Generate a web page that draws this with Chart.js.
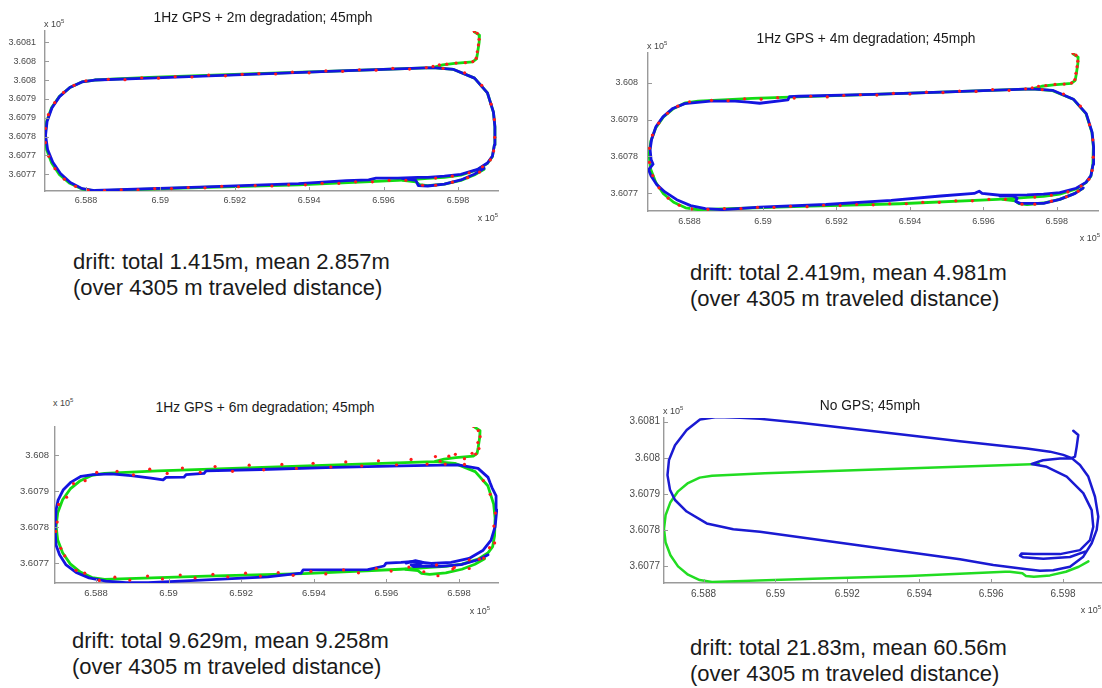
<!DOCTYPE html>
<html><head><meta charset="utf-8">
<script src="https://cdn.jsdelivr.net/npm/chart.js@4.4.0/dist/chart.umd.min.js"></script>
<style>
html,body{margin:0;padding:0;background:#fff;}
body{width:1102px;height:688px;position:relative;overflow:hidden;font-family:"Liberation Sans",Arial,sans-serif;}
canvas{position:absolute;}
.t{position:absolute;white-space:nowrap;color:#222;}
.title{font-size:13.8px;transform:translate(-50%,-50%);color:#1a1a1a;}
.exp{font-size:9px;color:#444;transform:translate(0,-50%);}
.expr{font-size:9px;color:#444;transform:translate(-100%,-50%);}
.exp sup,.expr sup{font-size:6px;vertical-align:4px;}
.cap{font-size:22px;line-height:26px;color:#1a1a1a;}
</style></head><body>
<script>
// ---- data (UTM metres; axis labels shown in units of 1e5 m) ----
const xTickValues = [658800, 659000, 659200, 659400, 659600, 659800];
const xTickLabels = ['6.588', '6.59', '6.592', '6.594', '6.596', '6.598'];
const yTicksP1 = [360770, 360775, 360780, 360785, 360790, 360795, 360800, 360805];
const yLabelsP1 = ['3.6077', '3.6077', '3.6078', '3.6079', '3.6079', '3.608', '3.608', '3.6081'];
const yTicksP23 = [360770, 360780, 360790, 360800];
const yLabelsP23 = ['3.6077', '3.6078', '3.6079', '3.608'];
const yTicksP4 = [360770, 360780, 360790, 360800, 360810];
const yLabelsP4 = ['3.6077', '3.6078', '3.6079', '3.608', '3.6081'];

const titles = ['1Hz GPS + 2m degradation; 45mph', '1Hz GPS + 4m degradation; 45mph', '1Hz GPS + 6m degradation; 45mph', 'No GPS; 45mph'];
const captions = [
  ['drift: total 1.415m, mean 2.857m', '(over 4305 m traveled distance)'],
  ['drift: total 2.419m, mean 4.981m', '(over 4305 m traveled distance)'],
  ['drift: total 9.629m, mean 9.258m', '(over 4305 m traveled distance)'],
  ['drift: total 21.83m, mean 60.56m', '(over 4305 m traveled distance)']
];

// ground truth (green)
const truthMain = [
  [659843.8,360807.8],[659857.9,360806.9],[659857.1,360805.1],[659852.6,360802.1],[659849.9,360800.6],[659839.2,360799.8],[659791.1,360799.4],[659759.0,360799.0],[659732.3,360798.3],
  [659505.1,360797.5],[659237.9,360796.6],[658970.6,360795.7],[658823.6,360795.0],
  [658789.2,360794.5],[658756.8,360793.0],[658729.0,360790.7],[658707.9,360787.7],[658694.5,360784.1],[658690.0,360780.3],[658694.5,360776.5],[658707.9,360773.0],[658729.0,360769.9],[658756.8,360767.6],[658789.2,360766.1],[658823.6,360765.6],
  [659104.3,360766.5],[659371.5,360767.2],[659638.8,360768.4],[659692.2,360768.7],
  [659718.9,360768.9],[659763.6,360769.2],[659807.9,360769.8],[659852.6,360771.2],[659879.3,360772.9],[659892.7,360774.7],[659898.0,360777.8],[659899.4,360782.6],[659895.4,360786.5],[659879.3,360791.6],[659844.6,360795.5],[659788.5,360797.8],[659732.3,360798.3]
];
const truthEnd = [[659652.1,360768.4],[659686.9,360768.0],[659696.8,360767.25],[659718.9,360767.0],[659763.6,360767.4],[659807.9,360768.4],[659843.8,360769.8],[659870.5,360771.3]];

// degraded GPS fixes (red), 2m / 4m runs
const gpsPoints = [
  [659844,360807.9],[659852,360807.4],[659857,360805.8],[659855,360804.3],[659852,360802.5],[659849,360800.8],[659840,360799.9],[659820,360799.6],[659795,360799.5],[659770,360799.2],[659750,360799.0],[659733,360798.6],
  [659715,360798.3],[659670,360797.9],[659625,360798.1],[659580,360797.6],[659535,360797.7],[659490,360797.3],[659445,360797.4],[659400,360796.9],[659355,360797.1],[659310,360796.6],[659265,360796.7],[659220,360796.5],[659175,360796.1],[659130,360796.3],[659085,360795.8],[659040,360795.9],[658995,360795.5],[658950,360795.6],[658905,360795.1],[658860,360795.2],
  [658800,360794.8],[658768,360793.6],[658740,360791.7],[658716,360789.0],[658699,360785.8],[658691,360782.2],[658691,360778.4],[658700,360774.8],[658717,360771.5],[658742,360768.7],[658772,360766.8],[658806,360765.8],
  [658850,360765.7],[658895,360765.9],[658940,360765.9],[658985,360766.2],[659030,360766.2],[659075,360766.5],[659120,360766.4],[659165,360766.8],[659210,360766.7],[659255,360767.0],[659300,360766.9],[659345,360767.2],[659390,360767.2],[659435,360767.6],[659480,360767.6],[659525,360768.0],[659570,360768.0],[659615,360768.4],[659660,360768.4],
  [659740,360769.0],[659785,360769.5],[659830,360770.4],[659866,360772.0],[659887,360773.8],[659896,360776.2],[659899,360779.8],[659898,360784.5],[659889,360788.6],[659864,360793.6],[659818,360796.9],[659760,360798.1],
  [659705,360767.1],[659740,360767.1],[659785,360767.9],[659826,360769.1],[659858,360770.6]
];
// degraded GPS fixes (red), 6m run
const gpsPoints6 = [
  [659840,360808.1],[659853,360806.9],[659858,360805.2],[659852,360803.6],[659855,360801.9],[659846,360800.4],[659836,360800.6],[659815,360799.1],[659790,360800.3],[659772,360799.8],[659748,360798.4],[659735,360799.7],
  [659712,360797.6],[659668,360798.9],[659628,360797.4],[659578,360798.5],[659532,360797.1],[659488,360798.2],[659447,360796.8],[659398,360797.8],[659352,360796.4],[659312,360797.5],[659262,360796.0],[659222,360797.3],[659176,360795.6],[659128,360796.9],[659087,360795.3],[659038,360796.5],[658996,360795.0],[658948,360796.2],[658903,360794.6],[658858,360795.6],
  [658802,360795.3],[658770,360793.0],[658738,360792.2],[658719,360788.4],[658697,360786.4],[658693,360781.5],[658689,360778.9],[658703,360774.2],[658714,360772.1],[658745,360768.1],[658769,360767.3],[658809,360765.3],
  [658852,360766.2],[658893,360765.4],[658942,360766.5],[658983,360765.7],[659032,360766.8],[659073,360766.0],[659122,360767.0],[659163,360766.3],[659212,360767.3],[659253,360766.5],[659302,360767.5],[659343,360766.7],[659392,360767.8],[659433,360767.1],[659482,360768.2],[659523,360767.4],[659572,360768.6],[659613,360767.9],[659662,360769.0],
  [659738,360769.6],[659787,360768.9],[659828,360771.0],[659868,360771.5],[659884,360774.4],[659898,360775.7],[659896,360780.4],[659900,360784.0],[659886,360789.2],[659867,360793.0],[659815,360797.5],[659762,360797.6],
  [659703,360767.7],[659742,360766.6],[659783,360768.5],[659828,360768.6],[659856,360771.2]
];

// estimated trajectories (blue)
const blue1Main = [
  [659732.3,360798.3],[659505.1,360797.5],[659237.9,360796.5],[658970.6,360795.5],[658823.6,360795.0],
  [658789.2,360794.5],[658756.8,360793.0],[658729.0,360790.6],[658708.5,360787.6],[658695.5,360784.0],[658691.5,360780.3],[658697.0,360776.6],[658711.0,360773.2],[658731.5,360770.2],[658758.0,360767.8],[658790.0,360766.2],[658823.6,360765.7],
  [659104.3,360766.6],[659371.5,360767.5],[659500.0,360768.3],[659560.0,360768.5],[659580.0,360769.0],[659638.8,360769.0],[659692.2,360769.2],
  [659718.9,360769.2],[659763.6,360769.5],[659807.9,360770.0],[659852.6,360771.3],[659879.3,360773.0],[659892.7,360774.8],[659898.0,360777.8],[659899.4,360782.6],[659895.4,360786.5],[659879.3,360791.6],[659844.6,360795.5],[659788.5,360797.8],[659732.3,360798.3]
];
const blue1End = [[659650.0,360768.9],[659686.9,360768.4],[659693.5,360767.0],[659718.9,360766.9],[659763.6,360767.4],[659807.9,360768.5],[659843.8,360770.0],[659870.5,360771.6]];

const blue2Main = [
  [659732.3,360798.3],[659505.0,360797.5],[659300.0,360796.8],[659098.9,360796.3],[659072.0,360796.2],[659068.0,360795.3],[658991.0,360794.4],[658959.0,360794.7],[658924.0,360795.0],[658857.0,360795.0],
  [658786.8,360794.3],[658754.6,360793.0],[658727.7,360790.7],[658708.8,360788.1],[658696.7,360784.6],[658692.7,360781.9],[658695.4,360779.2],[658700.8,360777.9],[658688.7,360776.4],[658695.4,360774.7],[658711.5,360772.3],[658733.0,360770.4],[658765.3,360768.3],[658803.0,360766.7],[658843.3,360765.9],[658889.1,360765.6],
  [658991.3,360766.3],[659171.5,360767.0],[659349.0,360768.1],[659483.6,360769.3],[659575.0,360770.0],[659588.5,360770.6],[659596.5,360770.0],[659645.0,360769.5],
  [659718.9,360769.6],[659763.6,360769.8],[659807.9,360770.2],[659852.6,360771.4],[659879.3,360773.0],[659892.7,360774.8],[659898.5,360777.8],[659900.0,360782.6],[659896.0,360786.5],[659880.0,360791.6],[659845.0,360795.5],[659788.5,360797.9],[659732.3,360798.3]
];
const blue2End = [[659645.0,360769.3],[659680.0,360769.4],[659692.0,360768.7],[659688.0,360767.8],[659700.0,360767.3],[659763.6,360767.3],[659807.9,360768.4],[659850.0,360770.0],[659872.0,360771.5]];

const blue3Main = [
  [659750.6,360797.3],[659640.4,360797.1],[659455.8,360796.7],[659254.7,360796.1],[659103.2,360795.7],[659097.7,360795.0],[659048.1,360794.7],[659042.6,360794.0],[658993.0,360793.9],[658984.8,360793.2],[658951.7,360793.7],[658896.6,360794.4],[658841.5,360794.9],[658791.9,360794.7],
  [658758.9,360794.2],[658731.3,360792.6],[658709.3,360790.4],[658695.5,360787.6],[658690.0,360784.9],[658688.6,360782.1],[658687.2,360779.3],[658690.0,360775.1],[658699.6,360772.4],[658717.5,360769.6],[658745.1,360767.5],[658780.9,360766.0],[658827.7,360765.1],[658882.8,360764.7],[658943.4,360764.7],
  [659089.4,360765.4],[659273.2,360766.3],[659364.9,360767.3],[659370.4,360768.2],[659548.7,360768.3],[659593.6,360769.3],[659599.1,360770.1],[659640.4,360770.3],[659676.2,360770.6],
  [659723.1,360770.0],[659778.1,360770.3],[659827.7,360771.4],[659865.5,360773.6],[659888.3,360776.5],[659899.4,360780.2],[659904.0,360784.9],[659902.1,360788.8],[659891.1,360791.0],[659885.6,360792.4],[659880.1,360793.9],[659852.5,360796.4],[659797.4,360797.4],[659750.6,360797.3]
];
const blue3End = [[659654.2,360770.1],[659680.0,360770.8],[659700.0,360770.3],[659690.0,360769.8],[659668.0,360769.6],[659676.0,360769.1],[659709.3,360769.3],[659750.6,360769.2],[659805.7,360769.7],[659855.3,360771.1],[659880.1,360772.4]];

const blue4 = [
  [659828.5,360807.5],[659842.4,360806.3],[659838.0,360803.1],[659833.2,360800.3],[659824.1,360799.9],
  [659800.7,360800.8],[659763.7,360801.7],[659698.9,360802.6],[659513.4,360804.6],[659346.5,360806.5],[659207.4,360808.1],[659068.3,360809.7],[658957.0,360810.8],[658901.4,360811.1],[658836.6,360811.3],[658790.1,360810.6],
  [658753.1,360807.7],[658720.6,360803.5],[658703.9,360799.4],[658699.7,360795.2],[658706.7,360791.1],[658720.6,360788.3],[658753.1,360785.1],[658808.8,360781.8],[658882.8,360780.2],[658957.0,360779.5],
  [659235.2,360775.7],[659513.4,360771.9],[659606.0,360770.3],[659698.9,360769.1],[659735.9,360768.7],[659772.9,360768.8],[659819.3,360769.8],[659856.3,360772.6],[659879.7,360776.3],[659893.6,360780.0],[659898.0,360783.7],[659888.9,360789.2],[659870.2,360794.8],[659847.1,360798.0],[659824.1,360799.9],
  [659791.5,360799.8],[659744.2,360799.3],[659712.8,360798.3],[659754.5,360797.5],[659810.2,360794.8],[659856.3,360790.2],[659879.7,360785.5],[659884.1,360780.9],[659875.0,360777.2],[659847.1,360774.4],[659791.5,360773.3],[659717.2,360773.3],[659685.0,360773.5],[659680.2,360772.9],[659689.4,360772.4],[659745.1,360772.0],[659819.3,360772.5],[659861.1,360774.0]
];

// ---- rendering ----
const FONT = '"Liberation Sans", Arial, sans-serif';
const AXIS = '#9a9a9a', TICK = '#4a4a4a';
const BLUE = '#1414e0', GREEN = '#12dc12', RED = '#ff1a1a';
const toXY = a => a.map(p => ({x: p[0], y: p[1]}));
const line = (pts, color, w) => ({data: toXY(pts), showLine: true, borderColor: color, borderWidth: w, pointRadius: 0, fill: false, tension: 0, borderJoinStyle: 'round', borderCapStyle: 'round'});
const dots = (pts) => ({data: toXY(pts), showLine: false, pointRadius: 1.6, pointBackgroundColor: RED, pointBorderWidth: 0});

const tickMarks = {
  id: 'tickMarks',
  afterDraw(chart) {
    const ctx = chart.ctx, a = chart.chartArea, sx = chart.scales.x, sy = chart.scales.y;
    ctx.save(); ctx.strokeStyle = AXIS; ctx.lineWidth = 1; ctx.beginPath();
    sx.ticks.forEach(t => { const p = Math.round(sx.getPixelForValue(t.value)) + 0.5; ctx.moveTo(p, a.bottom); ctx.lineTo(p, a.bottom - 4); });
    sy.ticks.forEach(t => { const p = Math.round(sy.getPixelForValue(t.value)) + 0.5; ctx.moveTo(a.left, p); ctx.lineTo(a.left + 4, p); });
    ctx.stroke(); ctx.restore();
  }
};

function panel(s) {
  const c = document.createElement('canvas');
  c.width = s.w; c.height = s.h;
  c.style.left = s.left + 'px'; c.style.top = s.top + 'px';
  c.style.width = s.w + 'px'; c.style.height = s.h + 'px';
  document.body.appendChild(c);
  new Chart(c, {
    type: 'scatter',
    data: {datasets: s.datasets},
    options: {
      responsive: false, animation: false, devicePixelRatio: 1,
      layout: {padding: {left: 0, top: s.padTop, right: s.padRight, bottom: 0}},
      plugins: {legend: {display: false}, tooltip: {enabled: false}, title: {display: false}},
      scales: {
        x: {type: 'linear', bounds: 'data', min: s.xmin, max: s.xmax,
          grid: {display: false, drawTicks: false}, border: {display: true, color: AXIS, width: 1.4},
          afterBuildTicks: sc => { sc.ticks = xTickValues.map(v => ({value: v})); },
          afterFit: sc => { sc.height = s.xH; sc.paddingLeft = 0; sc.paddingRight = 0; },
          ticks: {autoSkip: false, maxRotation: 0, padding: s.xPad, color: TICK, font: {family: FONT, size: s.fs}, callback: (v, i) => xTickLabels[i]}},
        y: {type: 'linear', bounds: 'data', min: s.ymin, max: s.ymax,
          grid: {display: false, drawTicks: false}, border: {display: true, color: AXIS, width: 1.4},
          afterBuildTicks: sc => { sc.ticks = s.yTicks.map(v => ({value: v})); },
          afterFit: sc => { sc.width = s.yW; sc.paddingTop = 0; sc.paddingBottom = 0; },
          ticks: {autoSkip: false, padding: s.yPad, color: TICK, font: {family: FONT, size: s.fs}, callback: (v, i) => s.yLabels[i]}}
      }
    },
    plugins: [tickMarks]
  });
}

panel({left: 0, top: 21, w: 502, h: 200, padTop: 10, padRight: 4, yW: 45, xH: 30, xPad: 4, yPad: 9, fs: 9,
  xmin: 658690, xmax: 659907.7, ymin: 360765.57, ymax: 360808.0, yTicks: yTicksP1, yLabels: yLabelsP1,
  datasets: [dots(gpsPoints), line(blue1Main, BLUE, 2.8), line(blue1End, BLUE, 2.8), line(truthMain, GREEN, 2.8), line(truthEnd, GREEN, 2.8)]});

panel({left: 600, top: 43, w: 502, h: 198, padTop: 10, padRight: 2, yW: 48, xH: 30, xPad: 5, yPad: 10, fs: 9,
  xmin: 658687, xmax: 659912, ymin: 360765.24, ymax: 360808.0, yTicks: yTicksP23, yLabels: yLabelsP23,
  datasets: [dots(gpsPoints), line(blue2Main, BLUE, 2.8), line(blue2End, BLUE, 2.8), line(truthMain, GREEN, 2.8), line(truthEnd, GREEN, 2.8)]});

panel({left: 0, top: 417, w: 502, h: 196, padTop: 10, padRight: 4, yW: 55, xH: 30, xPad: 5, yPad: 6, fs: 9.5,
  xmin: 658687, xmax: 659907.4, ymin: 360764.58, ymax: 360807.9, yTicks: yTicksP23, yLabels: yLabelsP23,
  datasets: [dots(gpsPoints6), line(blue3Main, BLUE, 2.8), line(blue3End, BLUE, 2.8), line(truthMain, GREEN, 2.8), line(truthEnd, GREEN, 2.8)]});

panel({left: 612, top: 408, w: 490, h: 205, padTop: 10, padRight: 1, yW: 52, xH: 30, xPad: 5, yPad: 4, fs: 10,
  xmin: 658690, xmax: 659905.6, ymin: 360765.29, ymax: 360811.03, yTicks: yTicksP4, yLabels: yLabelsP4,
  datasets: [line(blue4, '#1a1ad2', 2.5), line(truthMain.slice(8, 28).concat(truthEnd), '#22dc22', 2.5)]});

// ---- text ----
function addText(cls, html, left, top) {
  const d = document.createElement('div');
  d.className = 't ' + cls; d.innerHTML = html;
  d.style.left = left + 'px'; d.style.top = top + 'px';
  document.body.appendChild(d);
}
const titlePos = [[263, 17], [866, 38], [265, 407], [870, 405]];
titles.forEach((t, i) => addText('title', t, titlePos[i][0], titlePos[i][1]));
const expTop = [[44, 23], [647, 45], [53, 402], [663, 410]];
const expBot = [[498, 217], [1100, 237], [490, 610], [1101, 609]];
expTop.forEach(p => addText('exp', 'x 10<sup>5</sup>', p[0], p[1]));
expBot.forEach(p => addText('expr', 'x 10<sup>5</sup>', p[0], p[1]));
const capPos = [[73, 249], [690, 260], [72, 628], [690, 635]];
captions.forEach((c, i) => addText('cap', c[0] + '<br>' + c[1], capPos[i][0], capPos[i][1]));
</script>
</body></html>
